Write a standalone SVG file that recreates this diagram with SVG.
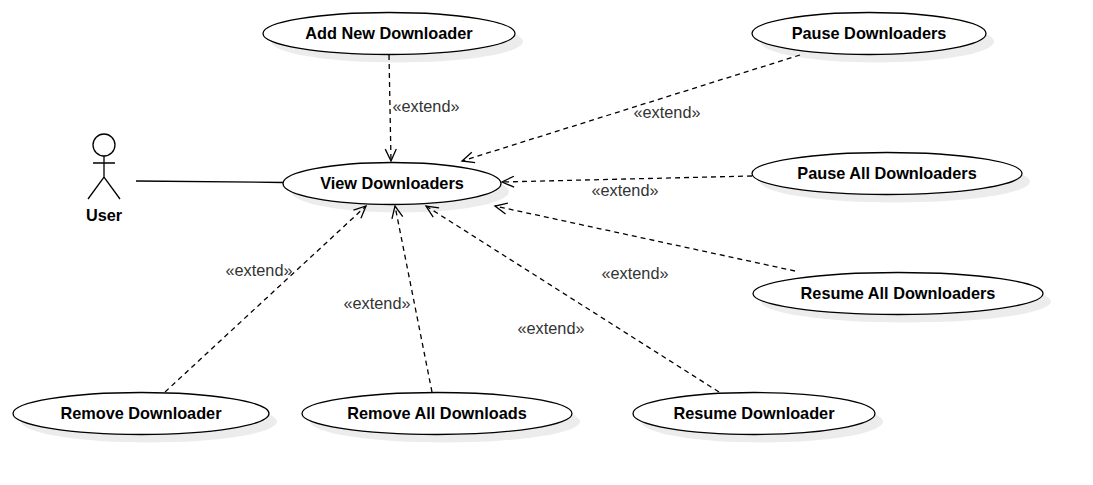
<svg xmlns="http://www.w3.org/2000/svg" width="1093" height="485" viewBox="0 0 1093 485">
<defs>
<marker id="open" markerUnits="userSpaceOnUse" markerWidth="20" markerHeight="20" refX="13" refY="8" orient="auto" viewBox="0 0 20 20"><path d="M1 2.500L13 8L1 13.500" fill="none" stroke="#000" stroke-width="1.300"/></marker>
<filter id="blur" x="-10%" y="-30%" width="120%" height="160%"><feGaussianBlur stdDeviation="0.6"/></filter>
</defs>
<style>
text{font-family:"Liberation Sans",Arial,sans-serif;text-anchor:middle}
.t{font-size:16.300px;font-weight:bold;fill:#000}
.l{font-size:16.300px;fill:#333}
.u{fill:#fff;stroke:#000;stroke-width:1.3}
.s{fill:#000;opacity:.07;filter:url(#blur)}
.d{fill:none;stroke:#000;stroke-width:1.300;stroke-dasharray:5 4;marker-end:url(#open)}
.a{fill:none;stroke:#000;stroke-width:1.300}
</style>
<rect width="1093" height="485" fill="#fff"/>
<g id="connectors">
<path class="a" d="M136 181L283 182.500"/>
<path class="d" d="M389 55L391 161"/>
<path class="d" d="M800 55L462 161"/>
<path class="d" d="M752 176L502 182"/>
<path class="d" d="M795 271L495 206"/>
<path class="d" d="M719 392L426 206"/>
<path class="d" d="M432 392L395 206"/>
<path class="d" d="M165 392L366 206"/>
</g>
<g id="labels">
<text class="l" x="426" y="112">«extend»</text>
<text class="l" x="667" y="118">«extend»</text>
<text class="l" x="625" y="196">«extend»</text>
<text class="l" x="635" y="279">«extend»</text>
<text class="l" x="551" y="334">«extend»</text>
<text class="l" x="377" y="309">«extend»</text>
<text class="l" x="259" y="276">«extend»</text>
</g>
<g id="user">
<circle class="a" fill="#fff" cx="104" cy="145" r="11"/>
<path class="a" d="M104 156V177M93 163H115M88 199L104 177L120 199"/>
<text class="t" x="104" y="221">User</text>
</g>
<g id="view-downloaders"><ellipse class="s" cx="400" cy="191.500" rx="109" ry="21"/><ellipse class="u" cx="392" cy="183.500" rx="109" ry="21"/><text class="t" x="392" y="189">View Downloaders</text></g>
<g id="add-new-downloader"><ellipse class="s" cx="397" cy="41.500" rx="126" ry="21"/><ellipse class="u" cx="389" cy="33.500" rx="126" ry="21"/><text class="t" x="389" y="39">Add New Downloader</text></g>
<g id="pause-downloaders"><ellipse class="s" cx="877" cy="41.500" rx="117" ry="21"/><ellipse class="u" cx="869" cy="33.500" rx="117" ry="21"/><text class="t" x="869" y="39">Pause Downloaders</text></g>
<g id="pause-all-downloaders"><ellipse class="s" cx="895" cy="181.500" rx="135" ry="21"/><ellipse class="u" cx="887" cy="173.500" rx="135" ry="21"/><text class="t" x="887" y="179">Pause All Downloaders</text></g>
<g id="resume-all-downloaders"><ellipse class="s" cx="906" cy="301.500" rx="145" ry="21"/><ellipse class="u" cx="898" cy="293.500" rx="145" ry="21"/><text class="t" x="898" y="299">Resume All Downloaders</text></g>
<g id="resume-downloader"><ellipse class="s" cx="762" cy="421.500" rx="121" ry="21"/><ellipse class="u" cx="754" cy="413.500" rx="121" ry="21"/><text class="t" x="754" y="419">Resume Downloader</text></g>
<g id="remove-all-downloads"><ellipse class="s" cx="445" cy="421.500" rx="135" ry="21"/><ellipse class="u" cx="437" cy="413.500" rx="135" ry="21"/><text class="t" x="437" y="419">Remove All Downloads</text></g>
<g id="remove-downloader"><ellipse class="s" cx="149" cy="421.500" rx="128" ry="21"/><ellipse class="u" cx="141" cy="413.500" rx="128" ry="21"/><text class="t" x="141" y="419">Remove Downloader</text></g>
</svg>
